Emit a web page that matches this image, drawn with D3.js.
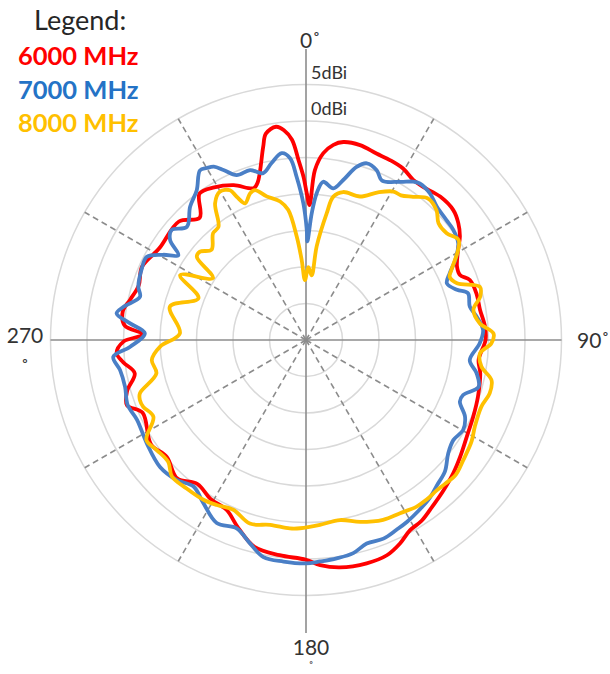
<!DOCTYPE html>
<html>
<head>
<meta charset="utf-8">
<script src="https://cdn.jsdelivr.net/npm/d3@7"></script>
<style>
  body { margin: 0; background: #fff; }
  svg { font-family: Lato, "Open Sans", sans-serif; display: block; }
</style>
</head>
<body>
<svg id="chart"></svg>
<script>
// Measured gain, [angle in degrees (clockwise from top), gain in dBi]
const gain6000 = [
  [0.3, -9.9], [1.5, -11.5], [3, -6.7], [5.3, -4.3], [8, -3.0], [10.7, -2.4], [15.5, -2.3],
  [20.7, -2.7], [25, -2.8], [29.5, -3.0], [33.8, -3.6], [37.4, -3.6], [43.1, -3.1], [48.6, -3.1],
  [52.5, -3.7], [56.1, -4.6], [59.4, -5.8], [64.1, -7.0], [67.1, -7.1], [69.9, -6.1], [74.7, -5.8],
  [80.2, -5.8], [85.8, -5.4], [90, -5.4], [96.6, -6.2], [100.8, -5.7], [108.2, -5.2], [114.6, -4.8],
  [121, -4.3], [127.2, -3.5], [132.1, -2.8], [137.5, -2.1], [142.6, -1.4], [147.4, -0.6], [151.3, -0.3],
  [155.2, 0.7], [159.4, 1.5], [164.8, 1.7], [171.5, 1.5], [176.4, 0.9], [180, 0.1], [187, -0.3],
  [194, -0.8], [200, -2.7], [205, -4.3], [211, -4.6], [217, -5.3], [223, -4.1], [230, -5.1],
  [236, -4.4], [246, -5.5], [250, -3.9], [254, -4.5], [259, -6.1], [263, -4.8], [266, -4.0],
  [269.5, -5.0], [272, -7.7], [274.5, -5.1], [279, -4.6], [283, -5.3], [288, -5.9], [294, -5.4],
  [302, -6.3], [313, -6.2], [319, -7.8], [324, -5.2], [329, -5.6], [335, -6.6], [341, -8.0],
  [343, -7.4], [347.5, -2.9], [349, -1.2], [352, -0.5], [354, -1.1], [356, -2.5], [357.6, -5.3],
  [359.1, -7.6]
];

const gain7000 = [
  [0.4, -14.9], [0.8, -16.5], [2.6, -12.6], [4.2, -9.8], [6.2, -8.2], [10.2, -8.9], [13.1, -7.5],
  [16.3, -5.3], [19, -4.4], [22.6, -4.8], [25.5, -5.8], [30.7, -4.8], [34.1, -3.8], [36, -3.5],
  [40.2, -3.7], [44.4, -4.4], [49.5, -4.7], [53.2, -4.8], [57.6, -5.3], [61.8, -6.8], [65.1, -8.3],
  [68.1, -9.2], [71.6, -8.2], [73.9, -6.9], [78.5, -7.1], [82.2, -6.4], [86.8, -5.7], [91.1, -6.2],
  [97, -7.4], [101, -6.2], [105.2, -5.5], [109.3, -7.2], [111.8, -7.3], [115.8, -5.8], [119.8, -5.2],
  [124.2, -5.6], [128.5, -5.1], [133.4, -3.8], [138, -3.2], [142, -2.5], [146.5, -2.0], [151, -1.5],
  [154.5, -1.2], [158.7, -0.8], [163.4, -0.9], [167.5, -0.1], [172, 0.2], [176.4, 0.4], [180, 0.6],
  [185.8, 0.5], [191.1, 0.3], [195.4, -1.1], [200.2, -2.5], [206, -2.1], [212.2, -3.6], [217.5, -4.7],
  [222.7, -3.9], [229, -3.5], [237, -4.0], [244.7, -4.4], [250, -4.0], [255.5, -4.4], [260.8, -4.2],
  [265, -3.5], [267.8, -5.9], [272.4, -7.9], [275.4, -5.8], [278, -3.8], [280.3, -4.6], [284.6, -6.5],
  [287.6, -5.9], [293.1, -5.5], [297.6, -5.4], [300.8, -7.2], [303.6, -9.0], [306.3, -6.9], [309.3, -6.2],
  [313.5, -7.5], [319, -5.8], [323.9, -4.6], [328, -2.6], [330, -2.8], [332, -3.1], [334.1, -4.1],
  [337.2, -5.5], [341.8, -5.5], [345.6, -6.4], [349, -5.3], [352.6, -4.2], [355, -5.0], [356.7, -7.6],
  [358.9, -11.3]
];

const gain8000 = [
  [1.8, -20.0], [5, -21.1], [6.5, -17.1], [9.3, -12.4], [10.8, -10.0], [14.1, -9.1], [20.6, -9.0],
  [26, -7.5], [30.5, -6.4], [33.3, -6.3], [36.8, -5.5], [40.8, -4.4], [45.2, -4.8], [48.6, -5.8],
  [52.8, -5.8], [56.7, -5.0], [59.4, -5.8], [64.3, -7.9], [66.3, -8.5], [69.4, -7.9], [73, -5.1],
  [76, -5.4], [79.8, -6.7], [84.5, -6.1], [88, -4.3], [91, -4.6], [94.4, -6.1], [98.6, -5.7],
  [102.2, -4.0], [106.2, -3.8], [110.8, -4.3], [117.2, -4.0], [121.5, -3.4], [127.3, -2.9], [132, -2.4],
  [136, -2.6], [139, -2.7], [143, -2.6], [146.4, -2.6], [151.5, -3.0], [156.8, -3.2], [163.4, -4.0],
  [169.3, -4.9], [175.7, -4.6], [181.8, -4.2], [184.9, -4.1], [191, -4.2], [197, -3.7], [203.2, -4.7],
  [208.4, -4.3], [212.7, -4.0], [218.8, -3.9], [224.5, -3.8], [228.5, -4.8], [233.6, -4.6], [237.9, -4.2],
  [243.3, -6.6], [247.7, -5.9], [250.1, -5.8], [252.2, -6.1], [257.4, -9.0], [262.6, -8.7], [267.4, -10.0],
  [273, -12.7], [283.8, -10.8], [291.2, -14.2], [297.3, -10.6], [303.6, -14.7], [307.3, -11.2],
  [309.8, -11.1], [313.7, -12.1], [319, -10.6], [322.3, -10.4], [326.4, -7.5], [329.9, -6.5],
  [333.1, -7.0], [334.2, -8.2], [336, -9.5], [339.1, -8.5], [341.2, -8.3], [344.7, -9.6], [349.4, -10.7],
  [352.2, -12.0], [354.9, -15.8], [356.9, -19.0], [359, -21.8]
];

const seriesNames = ["6000 MHz", "7000 MHz", "8000 MHz"];
const ringValues = [-25, -20, -15, -10, -5, 0, 5];    // dBi, one grid circle each
const ringLabels = [[5, "5dBi"], [0, "0dBi"]];
const spokeAngles = [30, 60, 120, 150, 210, 240, 300, 330];
const axisAngles = [0, 90, 180, 270];

const lineColors = ["#ff0000", "#4a7fc6", "#ffc000"];
const legendColors = ["#ff0000", "#2473c6", "#ffc000"];

// Set up the canvas
const width = 610, height = 674;
const cx = 306, cy = 340;
const svg = d3.select("#chart").attr("width", width).attr("height", height);

const r = d3.scaleLinear().domain([-30, 5]).range([0, 255.5]);
const rad = deg => deg * Math.PI / 180;

const plot = svg.append("g").attr("transform", `translate(${cx},${cy})`);

// Grid circles
plot.append("g")
  .selectAll("circle")
  .data(ringValues)
  .enter().append("circle")
  .attr("r", d => r(d))
  .style("fill", "none")
  .style("stroke", "#d9d9d9")
  .style("stroke-width", 1.5);

// Dashed spokes every 30 degrees
plot.append("g")
  .selectAll("line")
  .data(spokeAngles)
  .enter().append("line")
  .attr("x2", d => r(5) * Math.sin(rad(d)))
  .attr("y2", d => -r(5) * Math.cos(rad(d)))
  .style("stroke", "#8c8c8c")
  .style("stroke-width", 1.6)
  .style("stroke-dasharray", "6,4");

// Solid main axes (vertical one runs past the outer ring)
plot.append("line")
  .attr("x1", -r(5)).attr("x2", r(5))
  .style("stroke", "#8c8c8c").style("stroke-width", 1.6);
plot.append("line")
  .attr("y1", -291).attr("y2", 293)
  .style("stroke", "#8c8c8c").style("stroke-width", 1.6);

// Gain labels next to the 0 degree axis
plot.append("g")
  .selectAll("text")
  .data(ringLabels)
  .enter().append("text")
  .attr("x", 5)
  .attr("y", d => -r(d[0]) - 6)
  .style("font-size", "18px")
  .style("fill", "#333")
  .text(d => d[1]);

// Pattern lines
const line = d3.lineRadial()
  .angle(d => rad(d[0]))
  .radius(d => r(d[1]))
  .curve(d3.curveCatmullRomClosed.alpha(0.5));

plot.append("g")
  .selectAll("path")
  .data([gain6000, gain7000, gain8000])
  .enter().append("path")
  .attr("d", line)
  .style("fill", "none")
  .style("stroke", (d, i) => lineColors[i])
  .style("stroke-width", 3.8)
  .style("stroke-linejoin", "round");

// Angle labels
const angleText = svg.append("g")
  .style("font-size", "21px")
  .style("fill", "#333");

angleText.append("text").attr("x", 300).attr("y", 48).text(axisAngles[0] + "˚");
angleText.append("text").attr("x", 577).attr("y", 348).text(axisAngles[1] + "˚");

// 180 wraps its degree sign onto a second line; kept small so it stays inside the frame
angleText.append("text").attr("text-anchor", "middle").attr("x", 311).attr("y", 655).text(axisAngles[2]);
angleText.append("text").attr("text-anchor", "middle").attr("x", 311).attr("y", 670.5)
  .style("font-size", "13px").text("˚");

const t270 = angleText.append("text").attr("text-anchor", "middle").attr("x", 25).attr("y", 343);
t270.append("tspan").text(axisAngles[3]);
t270.append("tspan").attr("x", 25).attr("dy", "1.5em").text("˚");

// Legend
const legend = svg.append("g");
legend.append("text")
  .attr("x", 34).attr("y", 30)
  .style("font-size", "27px")
  .style("fill", "#262626")
  .text("Legend:");

legend.selectAll(".entry")
  .data(seriesNames)
  .enter().append("text")
  .attr("class", "entry")
  .attr("x", 18)
  .attr("y", (d, i) => 65 + i * 33.5)
  .style("font-size", "25.5px")
  .style("font-weight", "bold")
  .style("fill", (d, i) => legendColors[i])
  .text(d => d);
</script>
</body>
</html>
